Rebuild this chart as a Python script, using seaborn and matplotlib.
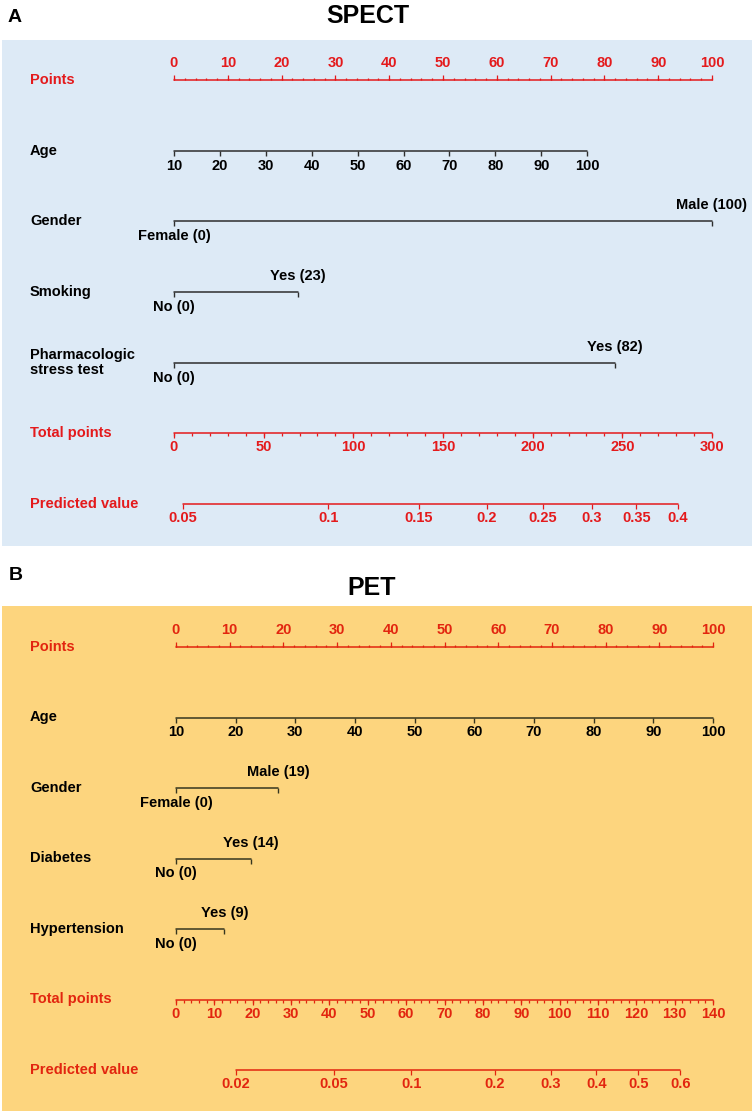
import numpy as np
import pandas as pd
import seaborn as sns
import matplotlib.pyplot as plt

# ---- data ----
points_ticks = list(range(0, 101, 10))

# SPECT (panel A)
spect_age_ticks = [10, 20, 30, 40, 50, 60, 70, 80, 90, 100]
spect_age_max_points = 76.8
spect_binary = [
    ("Gender", "Female (0)", "Male (100)", 100),
    ("Smoking", "No (0)", "Yes (23)", 23),
    ("Pharmacologic\nstress test", "No (0)", "Yes (82)", 82),
]
spect_total_max = 300
spect_total_major = [0, 50, 100, 150, 200, 250, 300]
spect_total_minor_step = 10
spect_pred_ticks = [0.05, 0.1, 0.15, 0.2, 0.25, 0.3, 0.35, 0.4]
spect_pred_labels = ["0.05", "0.1", "0.15", "0.2", "0.25", "0.3", "0.35", "0.4"]
spect_logit_intercept = -2.988
spect_logit_slope = 0.009186

# PET (panel B)
pet_age_ticks = [10, 20, 30, 40, 50, 60, 70, 80, 90, 100]
pet_age_max_points = 100
pet_binary = [
    ("Gender", "Female (0)", "Male (19)", 19),
    ("Diabetes", "No (0)", "Yes (14)", 14),
    ("Hypertension", "No (0)", "Yes (9)", 9),
]
pet_total_max = 140
pet_total_major = list(range(0, 141, 10))
pet_total_minor_step = 2
pet_pred_ticks = [0.02, 0.05, 0.1, 0.2, 0.3, 0.4, 0.5, 0.6]
pet_pred_labels = ["0.02", "0.05", "0.1", "0.2", "0.3", "0.4", "0.5", "0.6"]
pet_logit_intercept = -4.473
pet_logit_slope = 0.03711

W, H = 756, 1114

sns.set_theme(style="white")
plt.rcParams['font.family'] = ['Liberation Sans', 'DejaVu Sans']
plt.rcParams['font.weight'] = 'bold'
plt.rcParams['text.color'] = 'black'

fig = plt.figure(figsize=(W / 100, H / 100), dpi=100)


def draw_panel(rect, bg, red, dark, x0, scale, y0, dy, age_ticks, age_max, binary,
               total_max, total_major, total_minor_step, pred_ticks, pred_labels,
               b0, b1):
    left, top, right, bottom = rect
    ax = fig.add_axes([left / W, 1 - bottom / H, (right - left) / W, (bottom - top) / H])
    ax.set_facecolor(bg)
    ax.set_xlim((left - x0) / scale, (right - x0) / scale)
    ax.set_ylim((bottom - y0) / dy, (top - y0) / dy)
    ax.set_xticks([])
    ax.set_yticks([])
    for s in ax.spines.values():
        s.set_visible(False)

    px = 1.0 / dy  # one pixel in row units
    fs = 10.5
    lab_x = (30 - x0) / scale

    def row_label(row, text, color):
        ax.text(lab_x, row, text, color=color, fontsize=fs, fontweight='bold',
                ha='left', va='center', linespacing=1.05)

    def base(row, x_start, x_end, color):
        sns.lineplot(x=[x_start, x_end], y=[row, row], color=color, lw=1.1, ax=ax,
                     legend=False)

    # Points row (ticks point up, labels above)
    r = 0
    row_label(r, "Points", red)
    base(r, 0, 100, red)
    minor = np.arange(0, 101, 2)
    ax.vlines(minor, r, r - 2.5 * px, color=red, lw=0.9)
    ax.vlines(points_ticks, r, r - 5 * px, color=red, lw=0.9)
    for t in points_ticks:
        ax.text(t, r - 17 * px, str(t), color=red, fontsize=fs, fontweight='bold',
                ha='center', va='center')

    # Age row
    r = 1
    row_label(r, "Age", 'black')
    age_pos = [(a - age_ticks[0]) / (age_ticks[-1] - age_ticks[0]) * age_max for a in age_ticks]
    base(r, age_pos[0], age_pos[-1], dark)
    ax.vlines(age_pos, r, r + 5 * px, color=dark, lw=1.0)
    for a, p in zip(age_ticks, age_pos):
        ax.text(p, r + 15 * px, str(a), color='black', fontsize=fs, fontweight='bold',
                ha='center', va='center')

    # Binary predictors
    for i, (name, lo, hi, pts) in enumerate(binary):
        r = 2 + i
        row_label(r, name, 'black')
        base(r, 0, pts, dark)
        ax.vlines([0, pts], r, r + 5 * px, color=dark, lw=1.0)
        ax.text(0, r + 15 * px, lo, color='black', fontsize=fs, fontweight='bold',
                ha='center', va='center')
        ax.text(pts, r - 16 * px, hi, color='black', fontsize=fs, fontweight='bold',
                ha='center', va='center')

    # Total points row
    r = 5
    row_label(r, "Total points", red)
    to_x = 100.0 / total_max
    base(r, 0, 100, red)
    minor = np.arange(0, total_max + 0.1, total_minor_step) * to_x
    ax.vlines(minor, r, r + 3 * px, color=red, lw=0.9)
    ax.vlines(np.array(total_major) * to_x, r, r + 5 * px, color=red, lw=0.9)
    for t in total_major:
        ax.text(t * to_x, r + 14 * px, str(t), color=red, fontsize=fs, fontweight='bold',
                ha='center', va='center')

    # Predicted value row (logistic link)
    r = 6
    row_label(r, "Predicted value", red)
    logits = np.log(np.array(pred_ticks) / (1 - np.array(pred_ticks)))
    tp = (logits - b0) / b1
    pos = tp * to_x
    base(r, pos[0], pos[-1], red)
    ax.vlines(pos, r, r + 5 * px, color=red, lw=0.9)
    for p, lab in zip(pos, pred_labels):
        ax.text(p, r + 14 * px, lab, color=red, fontsize=fs, fontweight='bold',
                ha='center', va='center')
    return ax


draw_panel((2, 40, 752, 546), '#DDEAF6', '#E41A1C', '#2E2E2E', 174, 5.38, 80, 70.67,
           spect_age_ticks, spect_age_max_points, spect_binary,
           spect_total_max, spect_total_major, spect_total_minor_step,
           spect_pred_ticks, spect_pred_labels, spect_logit_intercept, spect_logit_slope)

draw_panel((2, 606, 752, 1111), '#FDD57E', '#E2250F', '#36361F', 176, 5.37, 647, 70.5,
           pet_age_ticks, pet_age_max_points, pet_binary,
           pet_total_max, pet_total_major, pet_total_minor_step,
           pet_pred_ticks, pet_pred_labels, pet_logit_intercept, pet_logit_slope)

# panel letters and titles
fig.text(15 / W, 1 - 18 / H, "A", fontsize=14, fontweight='bold', color='black',
         ha='center', va='center')
fig.text(368 / W, 1 - 16 / H, "SPECT", fontsize=18, fontweight='bold', color='black',
         ha='center', va='center')
fig.text(16 / W, 1 - 575 / H, "B", fontsize=14, fontweight='bold', color='black',
         ha='center', va='center')
fig.text(372 / W, 1 - 588 / H, "PET", fontsize=18, fontweight='bold', color='black',
         ha='center', va='center')

fig.savefig("out.png", dpi=100, facecolor='white')
